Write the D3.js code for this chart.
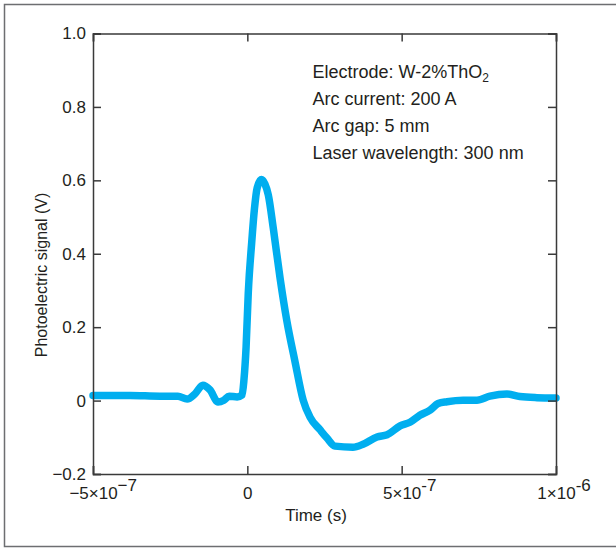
<!DOCTYPE html>
<html>
<head>
<meta charset="utf-8">
<script src="https://cdn.jsdelivr.net/npm/d3@7"></script>
<style>
  body { margin: 0; background: #fff; }
  svg { display: block; }
  text { font-family: "Liberation Sans", Arial, sans-serif; fill: #231f20; }
</style>
</head>
<body>
<svg width="616" height="549"></svg>
<script>
// photoelectric signal trace
const time = [-5.0e-7, -3.8e-7, -2.83e-7, -2.25e-7, -1.95e-7, -1.7e-7, -1.44e-7, -1.21e-7, -0.95e-7,
  -0.76e-7, -0.59e-7, -0.33e-7, -0.17e-7, -0.11e-7, -0.04e-7, 0.03e-7, 0.14e-7, 0.23e-7, 0.32e-7,
  0.46e-7, 0.57e-7, 0.68e-7, 0.84e-7, 1.06e-7, 1.28e-7, 1.54e-7, 1.81e-7, 2.03e-7, 2.36e-7, 2.58e-7,
  2.84e-7, 3.42e-7, 3.75e-7, 4.2e-7, 4.53e-7, 4.95e-7, 5.27e-7, 5.59e-7, 5.92e-7, 6.18e-7, 6.47e-7,
  6.99e-7, 7.44e-7, 7.86e-7, 8.41e-7, 8.83e-7, 9.38e-7, 10.0e-7];
const signal = [0.014, 0.014, 0.012, 0.012, 0.004, 0.018, 0.042, 0.029, -0.004,
  0.001, 0.012, 0.010, 0.015, 0.056, 0.146, 0.293, 0.429, 0.522, 0.580,
  0.602, 0.590, 0.56, 0.47, 0.334, 0.217, 0.108, 0.001, -0.045, -0.080, -0.102,
  -0.124, -0.127, -0.119, -0.099, -0.093, -0.069, -0.059, -0.040, -0.026, -0.008, -0.003,
  0.001, 0.001, 0.012, 0.018, 0.011, 0.008, 0.007];

const yTicks = [-0.2, 0, 0.2, 0.4, 0.6, 0.8, 1.0];
const yTickLabels = ["\u22120.2", "0", "0.2", "0.4", "0.6", "0.8", "1.0"];
const xTicks = [-5e-7, 0, 5e-7, 1e-6];
const xTickBase = ["\u22125\u00d710", "0", "5\u00d710", "1\u00d710"];
const xTickExp = ["\u22127", "", "-7", "-6"];

const notes = [
  ["Electrode: W-2%ThO", "2"],
  ["Arc current: 200 A", ""],
  ["Arc gap: 5 mm", ""],
  ["Laser wavelength: 300 nm", ""]
];

const svg = d3.select("svg");
const plot = { left: 93, right: 556, top: 33.5, bottom: 474 };

const x = d3.scaleLinear().domain([-5e-7, 1e-6]).range([plot.left, plot.right]);
const y = d3.scaleLinear().domain([-0.2, 1.0]).range([plot.bottom, plot.top]);

// outer frame
svg.append("rect")
    .attr("x", 4.5).attr("y", 4.5)
    .attr("width", 630).attr("height", 542)
    .attr("fill", "none")
    .attr("stroke", "#6d6e71")
    .attr("stroke-width", 1.5);

// the trace
const line = d3.line()
    .x((d, i) => x(time[i]))
    .y(d => y(d))
    .curve(d3.curveMonotoneX);

svg.append("path")
    .datum(signal)
    .attr("d", line)
    .attr("fill", "none")
    .attr("stroke", "#00aeef")
    .attr("stroke-width", 7.5)
    .attr("stroke-linejoin", "round")
    .attr("stroke-linecap", "round");

// axes, ticks pointing inward
const axisColor = "#3a3a3a";
const styleAxis = g => {
  g.select(".domain").attr("stroke", axisColor).attr("stroke-width", 1.5);
  g.selectAll(".tick line").attr("stroke", axisColor).attr("stroke-width", 1.5);
};

svg.append("g")
    .attr("transform", `translate(${plot.left},0)`)
    .call(d3.axisLeft(y).tickValues(yTicks).tickSize(-8).tickPadding(7)
      .tickFormat((d, i) => yTickLabels[i]))
    .call(styleAxis)
    .call(g => g.selectAll("text").attr("font-size", 17).attr("fill", "#231f20")
      .style("font-family", "'Liberation Sans', Arial, sans-serif"));

svg.append("g")
    .attr("transform", `translate(${plot.right},0)`)
    .call(d3.axisRight(y).tickValues(yTicks).tickSize(-8).tickFormat(""))
    .call(styleAxis);

svg.append("g")
    .attr("transform", `translate(0,${plot.top})`)
    .call(d3.axisTop(x).tickValues(xTicks).tickSize(-8).tickFormat(""))
    .call(styleAxis);

const xAxis = svg.append("g")
    .attr("transform", `translate(0,${plot.bottom})`)
    .call(d3.axisBottom(x).tickValues(xTicks).tickSize(-8).tickFormat(""))
    .call(styleAxis);

// x tick labels with exponents, base part centred on the tick
xAxis.selectAll(".tick").each(function (d, i) {
  const t = d3.select(this).append("text")
      .attr("y", 25)
      .attr("font-size", 17)
      .attr("fill", "#231f20")
      .style("font-family", "'Liberation Sans', Arial, sans-serif")
      .attr("text-anchor", "start");
  t.append("tspan").text(xTickBase[i]);
  if (xTickExp[i]) t.append("tspan").attr("dy", -8).text(xTickExp[i]);
  const baseW = t.select("tspan").node().getComputedTextLength();
  t.attr("x", -baseW / 2);
});

// axis titles
svg.append("text")
    .attr("x", 316).attr("y", 521)
    .attr("text-anchor", "middle")
    .attr("font-size", 17)
    .text("Time (s)");

svg.append("text")
    .attr("transform", "translate(47,275) rotate(-90)")
    .attr("text-anchor", "middle")
    .attr("font-size", 16)
    .text("Photoelectric signal (V)");

// experiment conditions
notes.forEach((n, i) => {
  const t = svg.append("text")
      .attr("x", 312.5)
      .attr("y", 78 + i * 27)
      .attr("font-size", 18);
  t.append("tspan").text(n[0]);
  if (n[1]) t.append("tspan").attr("font-size", 12).attr("dy", 4).text(n[1]);
});
</script>
</body>
</html>
